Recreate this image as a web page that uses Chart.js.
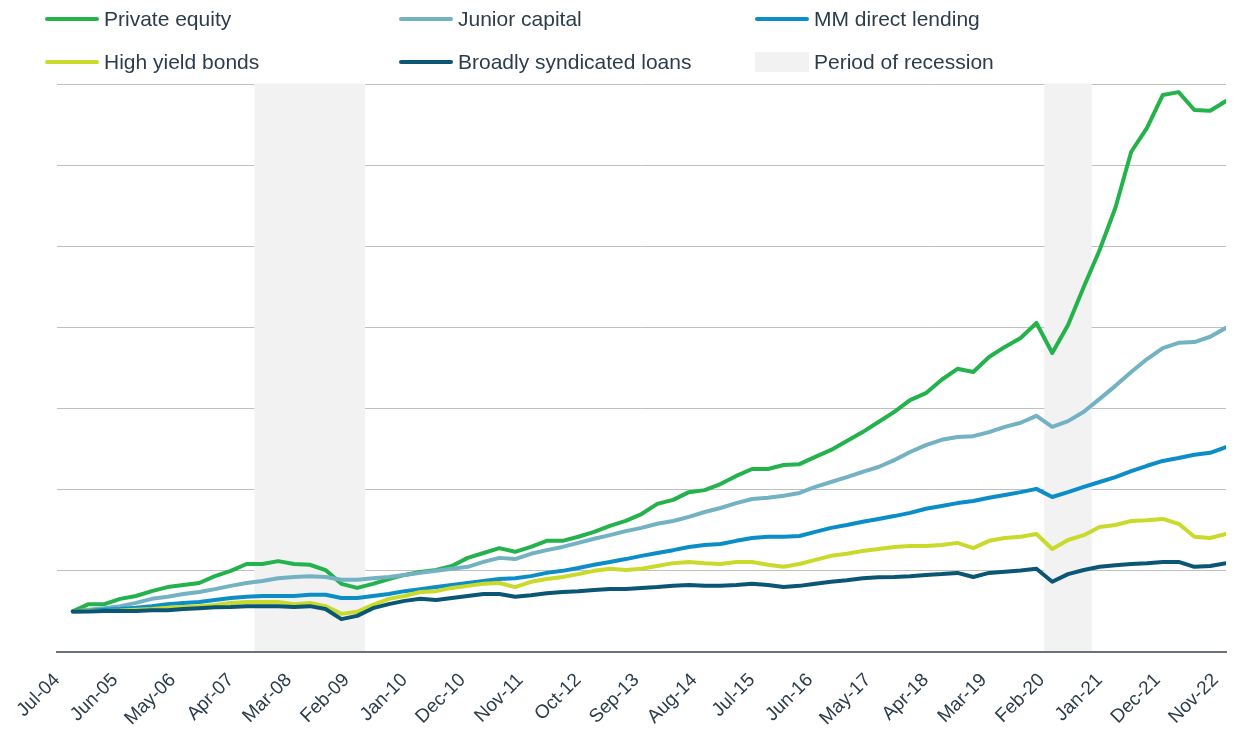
<!DOCTYPE html>
<html>
<head>
<meta charset="utf-8">
<script src="https://cdn.jsdelivr.net/npm/chart.js@4.4.1/dist/chart.umd.min.js"></script>
<style>
  body { margin: 0; background: #fff; }
  #wrap { position: relative; width: 1234px; height: 731px; font-family: "Liberation Sans", Arial, sans-serif; color: #2d3c4b; }
  #chart { position: absolute; left: 0; top: 0; }
  .item { position: absolute; display: flex; align-items: center; font-size: 21px; line-height: 24px; white-space: nowrap; }
  .line { display: inline-block; width: 54px; height: 4px; border-radius: 2px; margin-right: 5px; }
  .box { display: inline-block; width: 54px; height: 20px; margin-right: 5px; background: #f2f2f2; }
</style>
</head>
<body>
<div id="wrap">
  <canvas id="chart" width="1234" height="731"></canvas>
  <div class="item" style="left:45px;top:7px"><span class="line" style="background:#24b24c"></span>Private equity</div>
  <div class="item" style="left:399px;top:7px"><span class="line" style="background:#72b2c2"></span>Junior capital</div>
  <div class="item" style="left:755px;top:7px"><span class="line" style="background:#0b8ec7"></span>MM direct lending</div>
  <div class="item" style="left:45px;top:50px"><span class="line" style="background:#c9da2b"></span>High yield bonds</div>
  <div class="item" style="left:399px;top:50px"><span class="line" style="background:#0b5675"></span>Broadly syndicated loans</div>
  <div class="item" style="left:755px;top:50px"><span class="box"></span>Period of recession</div>
</div>
<script>
const MONTHS = ['Jan', 'Feb', 'Mar', 'Apr', 'May', 'Jun', 'Jul', 'Aug', 'Sep', 'Oct', 'Nov', 'Dec'];

// quarterly index values (start = 100), Sep-04 .. Dec-22
const privateEquity = [100, 118, 118, 131, 138, 150, 160, 165, 170, 187, 200, 217, 217, 224, 217, 215, 202, 168, 158, 168,
  180, 190, 197, 202, 212, 232, 244, 256, 247, 259, 274, 274, 284, 296, 311, 323, 340, 365, 375, 394,
  399, 414, 434, 451, 451, 461, 463, 481, 498, 520, 542, 567, 592, 621, 638, 671, 698, 690, 727, 752,
  774, 811, 737, 806, 900, 991, 1095, 1233, 1292, 1373, 1380, 1336, 1334, 1358];
const juniorCapital = [100, 104, 108, 113, 121, 131, 136, 143, 148, 155, 163, 170, 175, 182, 185, 187, 185, 178, 178, 182,
  185, 190, 195, 200, 205, 210, 222, 232, 229, 242, 251, 259, 269, 279, 288, 298, 306, 316, 323, 333,
  345, 355, 367, 377, 380, 385, 392, 407, 419, 431, 444, 456, 473, 493, 510, 523, 530, 532, 542, 555,
  565, 582, 555, 569, 592, 624, 656, 690, 722, 749, 762, 764, 777, 799];
const mmDirectLending = [100, 101, 104, 106, 109, 113, 118, 121, 123, 128, 133, 136, 138, 138, 138, 141, 141, 133, 133, 138,
  143, 150, 155, 160, 165, 170, 175, 180, 182, 187, 195, 200, 207, 215, 222, 229, 237, 244, 251, 259,
  264, 266, 274, 281, 284, 284, 286, 296, 306, 313, 321, 328, 335, 343, 353, 360, 367, 372, 380, 387,
  394, 402, 382, 394, 407, 419, 431, 446, 459, 471, 478, 486, 491, 505];
const highYieldBonds = [100, 101, 101, 102, 104, 106, 109, 111, 113, 116, 121, 123, 123, 123, 118, 121, 113, 94, 99, 116,
  131, 138, 148, 150, 158, 163, 168, 170, 160, 173, 180, 185, 192, 200, 205, 202, 205, 212, 219, 222,
  219, 217, 222, 222, 215, 210, 217, 227, 237, 242, 249, 254, 259, 261, 261, 264, 269, 256, 274, 281,
  284, 291, 254, 276, 288, 308, 313, 323, 325, 328, 316, 284, 281, 291];
const syndicatedLoans = [100, 100, 101, 101, 101, 103, 103, 106, 108, 110, 111, 113, 113, 113, 111, 113, 106, 81, 89, 108,
  118, 126, 131, 128, 133, 138, 143, 143, 136, 140, 145, 148, 150, 153, 155, 155, 158, 160, 163, 165,
  163, 163, 165, 168, 165, 160, 163, 168, 173, 177, 182, 184, 185, 187, 190, 192, 195, 185, 195, 198,
  201, 205, 173, 192, 202, 210, 214, 217, 219, 222, 222, 210, 212, 219];

const xTickLabels = ['Jul-04', 'Jun-05', 'May-06', 'Apr-07', 'Mar-08', 'Feb-09', 'Jan-10', 'Dec-10', 'Nov-11', 'Oct-12',
  'Sep-13', 'Aug-14', 'Jul-15', 'Jun-16', 'May-17', 'Apr-18', 'Mar-19', 'Feb-20', 'Jan-21', 'Dec-21', 'Nov-22'];

// first and last quarter shaded as recession
const recessionStart = ['Sep-07', 'Mar-20'];
const recessionEnd = ['Mar-09', 'Sep-20'];

// months since start of Jul-04
function monthIndex(lbl) {
  const [m, y] = lbl.split('-');
  return (Number(y) - 4) * 12 + MONTHS.indexOf(m) - 6;
}
function labelFor(idx) {
  const m = (idx + 6) % 12;
  const y = 4 + Math.floor((idx + 6) / 12);
  return MONTHS[m] + '-' + String(y).padStart(2, '0');
}
// quarter values sit at month end
const quarterX = lbl => monthIndex(lbl) + 1;

const quarters = [];
for (let i = 0; i < privateEquity.length; i++) quarters.push(labelFor(monthIndex('Sep-04') + i * 3));

const tickMonths = xTickLabels.map(monthIndex);

function series(vals) {
  return vals.map((v, i) => ({ x: quarterX(quarters[i]), y: v }));
}

const recessionBands = {
  id: 'recessionBands',
  beforeDatasetsDraw(chart) {
    const { ctx, chartArea, scales: { x } } = chart;
    ctx.save();
    ctx.fillStyle = '#f2f2f2';
    recessionStart.forEach((s, i) => {
      const x0 = x.getPixelForValue(quarterX(s) - 1.5);
      const x1 = x.getPixelForValue(quarterX(recessionEnd[i]) + 1.5);
      ctx.fillRect(x0, chartArea.top - 0.5, x1 - x0, chartArea.bottom - chartArea.top - 0.5);
    });
    ctx.restore();
  }
};

const lineStyle = { borderWidth: 4, pointRadius: 0, tension: 0, borderJoinStyle: 'round', borderCapStyle: 'round', fill: false };

new Chart(document.getElementById('chart'), {
  type: 'line',
  data: {
    datasets: [
      { label: 'Private equity', data: series(privateEquity), borderColor: '#24b24c', order: 5, ...lineStyle },
      { label: 'Junior capital', data: series(juniorCapital), borderColor: '#72b2c2', order: 4, ...lineStyle },
      { label: 'MM direct lending', data: series(mmDirectLending), borderColor: '#0b8ec7', order: 3, ...lineStyle },
      { label: 'High yield bonds', data: series(highYieldBonds), borderColor: '#c9da2b', order: 2, ...lineStyle },
      { label: 'Broadly syndicated loans', data: series(syndicatedLoans), borderColor: '#0b5675', order: 1, ...lineStyle }
    ]
  },
  options: {
    responsive: false,
    animation: false,
    layout: { padding: { left: 57, right: 8, top: 84, bottom: 0 } },
    plugins: { legend: { display: false }, tooltip: { enabled: false } },
    scales: {
      x: {
        type: 'linear',
        min: 0,
        max: quarterX(quarters[quarters.length - 1]),
        grid: { display: false, drawTicks: false },
        border: { color: '#6b727a', width: 2 },
        afterBuildTicks: s => { s.ticks = tickMonths.map(v => ({ value: v })); },
        afterFit: s => { s.height = 79; s.paddingLeft = 0; s.paddingRight = 0; },
        ticks: {
          autoSkip: false,
          minRotation: 45,
          maxRotation: 45,
          padding: 17,
          color: '#2d3c4b',
          font: { family: '"Liberation Sans", Arial, sans-serif', size: 19 },
          callback: v => xTickLabels[tickMonths.indexOf(v)]
        }
      },
      y: {
        min: 0,
        max: 1400,
        ticks: { display: false, stepSize: 200 },
        grid: { color: '#c0c0c0', lineWidth: 1, drawTicks: false },
        border: { display: false },
        afterFit: s => { s.width = 0; }
      }
    }
  },
  plugins: [recessionBands]
});
</script>
</body>
</html>
